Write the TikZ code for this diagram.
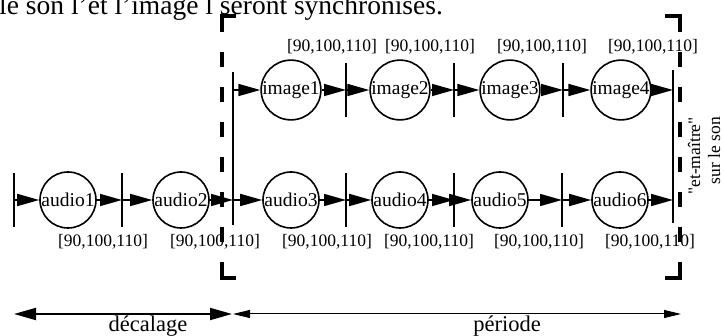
\documentclass[tikz,border=0pt]{standalone}
\usepackage{fontspec}
\setmainfont{Liberation Serif}
\newfontfamily\plainquote{Liberation Serif}
\usetikzlibrary{arrows.meta}
\begin{document}
\begin{tikzpicture}[x=1pt,y=-1pt,
  st/.style={circle,draw,line width=1.6pt,minimum size=56pt,inner sep=0pt,font=\fontsize{19.5}{22}\selectfont},
  lab/.style={font=\fontsize{17.5}{20}\selectfont,inner sep=0pt},
  txt/.style={font=\fontsize{17.5}{20}\selectfont,inner sep=0pt},
  bigtxt/.style={font=\fontsize{22.5}{26}\selectfont,inner sep=0pt},
  arr/.style={line width=1.6pt,-{Triangle[length=22pt,width=12pt]}},
  bar/.style={line width=1.6pt},
  tallbar/.style={line width=2pt},
  frame/.style={line width=4.5pt},
  framedash/.style={line width=4.5pt,dash pattern=on 15pt off 20pt},
  bigdim/.style={line width=2pt,{Triangle[length=22pt,width=12pt]}-{Triangle[length=22pt,width=12pt]}},
  smalldim/.style={line width=1pt,{Triangle[length=17pt,width=8pt]}-{Triangle[length=17pt,width=8pt]}}
]
\useasboundingbox (0,0) rectangle (724,336);

% heading text (cut at top)
\node[anchor=base west,inner sep=0pt,font=\fontsize{27.5}{30}\selectfont] (title) at (-1,15) {le son l'et l'image l seront synchronisés.};

% dashed frame: corners and sides
\draw[frame] (236,16) -- (222,16) -- (222,32);
\draw[frame] (665,16) -- (680,16) -- (680,32);
\draw[frame] (222,262) -- (222,278) -- (236,278);
\draw[frame] (680,262) -- (680,278) -- (665,278);
\draw[framedash] (222,52) -- (222,245);
\draw[framedash] (680,52) -- (680,245);

% bar coordinates
\coordinate (b1) at (14,200);
\coordinate (b2) at (122,200);
\coordinate (b3) at (346,200);
\coordinate (b4) at (454,200);
\coordinate (b5) at (562,200);
\coordinate (c1) at (346,90);
\coordinate (c2) at (454,90);
\coordinate (c3) at (563,90);
\coordinate (t1a) at (233,90);
\coordinate (t1b) at (233,200);
\coordinate (t2a) at (673,90);
\coordinate (t2b) at (673,200);

% bars
\foreach \b in {b1,b2,b3,b4,b5,c1,c2,c3}
  \draw[bar] ([yshift=27pt]\b) -- ([yshift=-27pt]\b);
\draw[tallbar] (233,72) -- (233,225);
\draw[tallbar] (673,70) -- (673,223);

% circles
\node[st] (a1) at (68,200) {audio1};
\node[st] (a2) at (181,200) {audio2};
\node[st] (a3) at (291,200) {audio3};
\node[st] (a4) at (400,200) {audio4};
\node[st] (a5) at (500,200) {audio5};
\node[st] (a6) at (620,200) {audio6};
\node[st] (i1) at (291,90) {image1};
\node[st] (i2) at (400,90) {image2};
\node[st] (i3) at (510,90) {image3};
\node[st] (i4) at (621,90) {image4};

% arrows bottom row
\draw[arr] (b1) -- (a1);
\draw[arr] (a1) -- (b2);
\draw[arr] (b2) -- (a2);
\draw[arr] (a2) -- (t1b);
\draw[arr] (t1b) -- (a3);
\draw[arr] (a3) -- (b3);
\draw[arr] (b3) -- (a4);
\draw[arr] (a4) -- (b4);
\draw[arr] (b4) -- (a5);
\draw[arr] (a5) -- (b5);
\draw[arr] (b5) -- (a6);
\draw[arr] (a6) -- (t2b);
% arrows top row
\draw[arr] (t1a) -- (i1);
\draw[arr] (i1) -- (c1);
\draw[arr] (c1) -- (i2);
\draw[arr] (i2) -- (c2);
\draw[arr] (c2) -- (i3);
\draw[arr] (i3) -- (c3);
\draw[arr] (c3) -- (i4);
\draw[arr] (i4) -- (t2a);

% interval labels
\node[lab] (lt1) at (332,47) {[90,100,110]};
\node[lab] (lt2) at (430,47) {[90,100,110]};
\node[lab] (lt3) at (542,47) {[90,100,110]};
\node[lab] (lt4) at (653,47) {[90,100,110]};
\node[lab] (lb1) at (103,242) {[90,100,110]};
\node[lab] (lb2) at (215,242) {[90,100,110]};
\node[lab] (lb3) at (327,242) {[90,100,110]};
\node[lab] (lb4) at (429,242) {[90,100,110]};
\node[lab] (lb5) at (539,242) {[90,100,110]};
\node[lab] (lb6) at (650,242) {[90,100,110]};

% vertical text
\node[txt,rotate=90,anchor=base east] (m1) at (700,117) {{\plainquote"}et-maître{\plainquote"}};
\node[txt,rotate=90,anchor=base east] (m2) at (720,117) {sur le son};

% dimension arrows
\coordinate (dl) at (14,314);
\coordinate (dm) at (232,314);
\coordinate (dn) at (233,314);
\coordinate (dr) at (681,314);
\draw[bigdim] (dl) -- (dm);
\draw[smalldim] (dn) -- (dr);
\node[bigtxt,anchor=base] (dec) at (148,332) {décalage};
\node[bigtxt,anchor=base] (per) at (507,332) {période};
\end{tikzpicture}
\end{document}
